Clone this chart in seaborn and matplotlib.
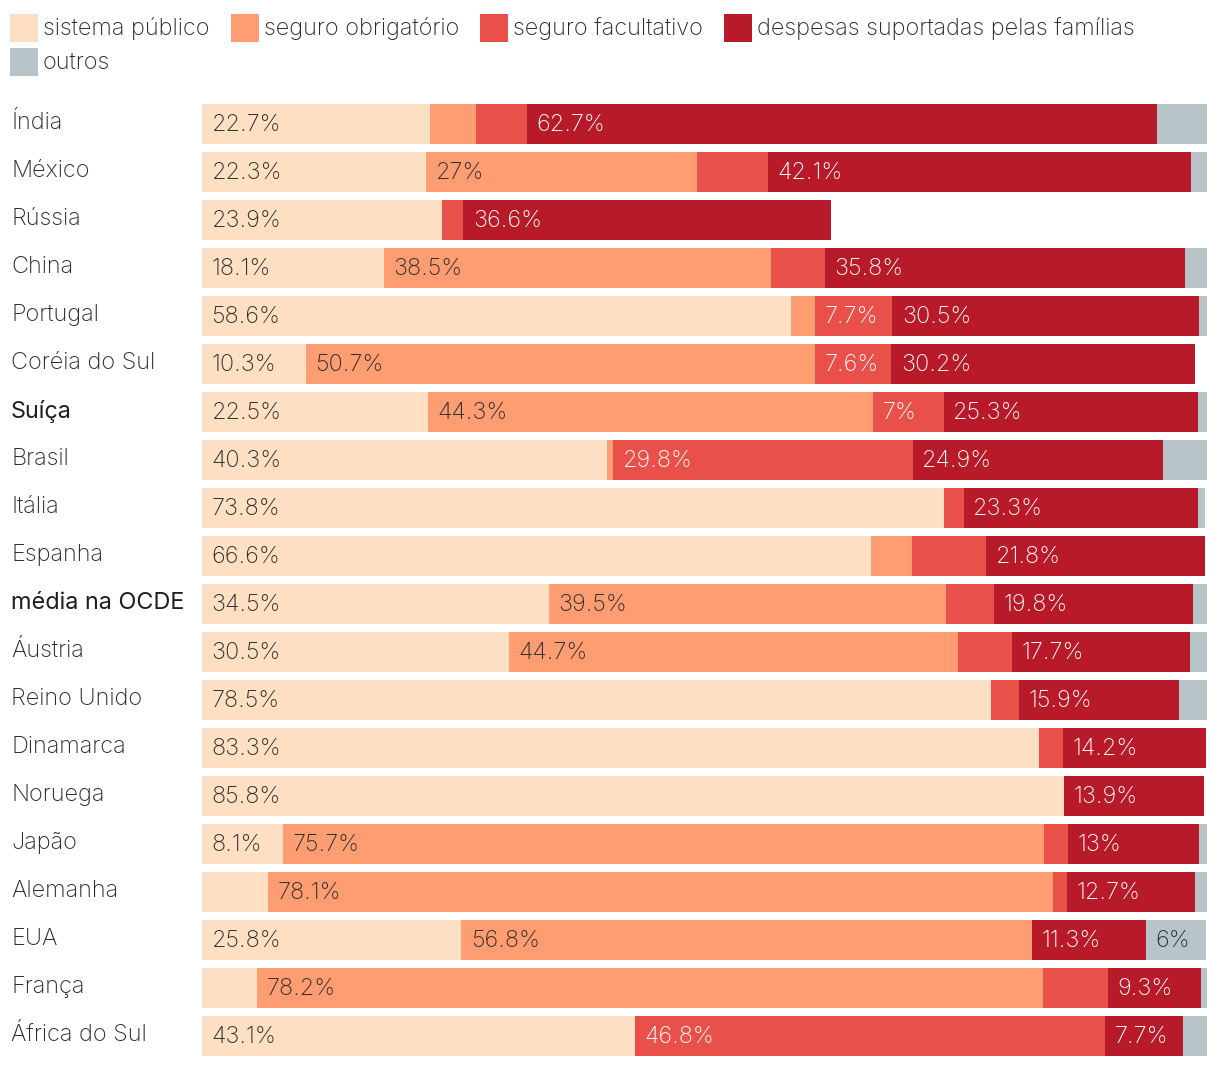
import matplotlib
matplotlib.use("Agg")
import matplotlib.pyplot as plt
import matplotlib.transforms as mtransforms
from matplotlib.patches import Rectangle
import seaborn as sns
import pandas as pd
import numpy as np

# ---------------- data ----------------
countries = ['Índia', 'México', 'Rússia', 'China', 'Portugal', 'Coréia do Sul', 'Suíça',
             'Brasil', 'Itália', 'Espanha', 'média na OCDE', 'Áustria', 'Reino Unido',
             'Dinamarca', 'Noruega', 'Japão', 'Alemanha', 'EUA', 'França', 'África do Sul']
publico = [22.7, 22.3, 23.9, 18.1, 58.6, 10.3, 22.5, 40.3, 73.8, 66.6, 34.5, 30.5, 78.5,
           83.3, 85.8, 8.1, 6.6, 25.8, 5.5, 43.1]
obrigatorio = [4.6, 27.0, 0.0, 38.5, 2.4, 50.7, 44.3, 0.6, 0.0, 4.0, 39.5, 44.7, 0.0,
               0.0, 0.0, 75.7, 78.1, 56.8, 78.2, 0.0]
facultativo = [5.0, 7.0, 2.1, 5.4, 7.7, 7.6, 7.0, 29.8, 2.0, 7.4, 4.8, 5.4, 2.8,
               2.4, 0.0, 2.4, 1.4, 0.0, 6.4, 46.8]
familias = [62.7, 42.1, 36.6, 35.8, 30.5, 30.2, 25.3, 24.9, 23.3, 21.8, 19.8, 17.7, 15.9,
            14.2, 13.9, 13.0, 12.7, 11.3, 9.3, 7.7]
outros = [5.0, 1.6, 0.0, 2.2, 0.8, 0.0, 0.9, 4.4, 0.7, 0.0, 1.4, 1.7, 2.8,
          0.0, 0.0, 0.8, 1.2, 6.0, 0.6, 2.4]

series_names = ['sistema público', 'seguro obrigatório', 'seguro facultativo',
                'despesas suportadas pelas famílias', 'outros']
series_keys = ['publico', 'obrigatorio', 'facultativo', 'familias', 'outros']
highlight = ['Suíça', 'média na OCDE']
label_min = 7.0
label_skip = [('Espanha', 'facultativo'), ('México', 'facultativo')]
label_extra = [('EUA', 'outros')]

colors = {'publico': '#fddfc3', 'obrigatorio': '#fd9d71', 'facultativo': '#e9504a',
          'familias': '#b91a29', 'outros': '#b7c5c8'}
text_colors = {'publico': '#2e2e2e', 'obrigatorio': '#2e2e2e', 'facultativo': 'white',
               'familias': 'white', 'outros': '#2e2e2e'}

df = pd.DataFrame({'pais': countries, 'publico': publico, 'obrigatorio': obrigatorio,
                   'facultativo': facultativo, 'familias': familias, 'outros': outros})
cum = df[series_keys].cumsum(axis=1)
starts = cum - df[series_keys]
for k in series_keys:
    df['cum_' + k] = cum[k]

# ---------------- style ----------------
sns.set_theme(style='white')
plt.rcParams['font.family'] = ['Inter', 'DejaVu Sans']
FS = 16.9
W, H = 1220, 1066
fig = plt.figure(figsize=(W / 100, H / 100), dpi=100)
ax = fig.add_axes([202 / W, 6 / H, 1005 / W, 960 / H])

# stacked bars via overdrawn cumulative sums
for k in reversed(series_keys):
    sns.barplot(data=df, x='cum_' + k, y='pais', order=countries, orient='h',
                color=colors[k], saturation=1, width=0.83, linewidth=0, ax=ax)

ax.set_xlim(0, 100)
ax.set_ylim(len(countries) - 0.5, -0.5)
ax.set_axis_off()

# value labels
for i, c in enumerate(countries):
    for k in series_keys:
        v = df.loc[i, k]
        show = (v >= label_min and (c, k) not in label_skip) or (c, k) in label_extra
        if show and v > 0:
            ax.text(starts.loc[i, k] + 0.95, i + 0.03, f"{v:g}%", va='center', ha='left',
                    fontsize=FS, fontweight='light', color=text_colors[k])

# country labels
trans = mtransforms.blended_transform_factory(fig.transFigure, ax.transData)
for i, c in enumerate(countries):
    if c in highlight:
        ax.text(11 / W, i - 0.02, c, transform=trans, va='center', ha='left',
                fontsize=FS, fontweight='normal', color='#1e1e1e')
    else:
        ax.text(11 / W, i - 0.02, c, transform=trans, va='center', ha='left',
                fontsize=FS, fontweight='light', color='#2a2a2a')

# legend (manual, wrapping)
renderer = fig.canvas.get_renderer()
x = 10
row_y = [28, 62]
row = 0
for k, name in zip(series_keys, series_names):
    t = fig.text(0, 0, name, fontsize=FS, fontweight='light', color='#2a2a2a',
                 va='center', ha='left')
    tw = t.get_window_extent(renderer).width
    if x + 34 + tw > W - 10:
        row += 1
        x = 10
    yc = row_y[row]
    fig.patches.append(Rectangle((x / W, 1 - (yc + 14) / H), 28 / W, 28 / H,
                                 transform=fig.transFigure, facecolor=colors[k],
                                 edgecolor='none'))
    t.set_position(((x + 33) / W, 1 - (yc + 1) / H))
    x = x + 34 + tw + 20

fig.savefig('out.png', dpi=100)
